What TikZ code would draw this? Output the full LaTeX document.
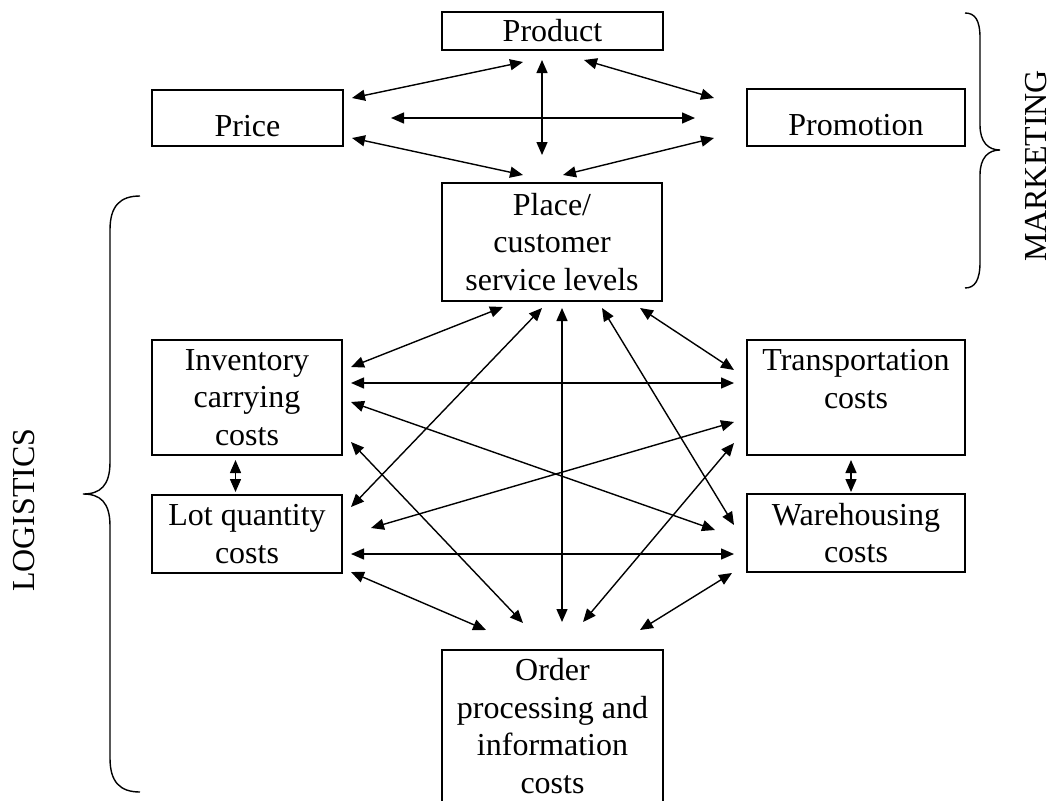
\documentclass[tikz,border=0pt]{standalone}
\usepackage{fontspec}
\setmainfont{Liberation Serif}
\usetikzlibrary{arrows.meta}

\begin{document}
\begin{tikzpicture}[x=1pt, y=-1pt,
  box/.style={draw, line width=1.8pt, inner sep=2pt, align=center,
    font=\fontsize{32}{37.5}\selectfont},
  lowbox/.style={box, text height=36pt, text depth=0pt},
  link/.style={{Triangle[length=13pt,width=11pt]}-{Triangle[length=13pt,width=11pt]},
    line width=1.4pt},
  brace/.style={line width=1.4pt}]

  \useasboundingbox (0,0) rectangle (1056,800);
  \clip (0,0) rectangle (1056,800);

  % Marketing mix (y in pixels from the top)
  \node[box, minimum width=221pt, minimum height=38pt] (product) at (552.5,31) {Product};
  \node[lowbox, minimum width=191pt, minimum height=56pt] (price) at (247.5,118) {Price};
  \node[lowbox, minimum width=218pt, minimum height=57pt] (promo) at (856,117.5) {Promotion};
  \node[box, minimum width=220pt, minimum height=118pt] (place) at (552,242)
    {Place/\\customer\\service levels};

  % Logistics cost boxes
  \node[box, minimum width=190pt, minimum height=115pt] (inv) at (247,397.5)
    {Inventory\\carrying\\costs};
  \node[box, minimum width=218pt, minimum height=115pt] (trans) at (856,397.5)
    {Transportation\\costs\\\mbox{}};
  \node[box, minimum width=190pt, minimum height=78pt] (lot) at (247,534)
    {Lot quantity\\costs};
  \node[box, minimum width=218pt, minimum height=78pt] (ware) at (856,533)
    {Warehousing\\costs};
  \node[box, minimum width=221pt, minimum height=152pt] (order) at (552.5,726)
    {Order\\processing and\\information\\costs};

  % Arrow ends round the marketing mix
  \coordinate (pp1) at (352,98);  \coordinate (pp2) at (523,62);
  \coordinate (pm1) at (584,60);  \coordinate (pm2) at (714,98);
  \coordinate (pv1) at (542,60);  \coordinate (pv2) at (542,155);
  \coordinate (ph1) at (391,118); \coordinate (ph2) at (695,118);
  \coordinate (pl1) at (352,138); \coordinate (pl2) at (523,175);
  \coordinate (ml1) at (714,138); \coordinate (ml2) at (563,175);

  % Arrow ends round the cost boxes
  \coordinate (a1) at (351,367); \coordinate (a2) at (503,307);
  \coordinate (b1) at (351,383); \coordinate (b2) at (734,383);
  \coordinate (c1) at (351,402); \coordinate (c2) at (715,530);
  \coordinate (d1) at (351,442); \coordinate (d2) at (523,623);
  \coordinate (e1) at (542,308); \coordinate (e2) at (351,507);
  \coordinate (f1) at (562,308); \coordinate (f2) at (562,622);
  \coordinate (g1) at (602,308); \coordinate (g2) at (734,525);
  \coordinate (h1) at (640,308); \coordinate (h2) at (734,370);
  \coordinate (i1) at (734,422); \coordinate (i2) at (371,528);
  \coordinate (j1) at (734,443); \coordinate (j2) at (583,622);
  \coordinate (k1) at (351,554); \coordinate (k2) at (734,554);
  \coordinate (l1) at (351,572); \coordinate (l2) at (486,630);
  \coordinate (m1) at (732,573); \coordinate (m2) at (640,630);
  \coordinate (n1) at (235.5,460); \coordinate (n2) at (235.5,492);
  \coordinate (o1) at (851,460);   \coordinate (o2) at (851,492);

  \foreach \a/\b in {pp1/pp2, pm1/pm2, pv1/pv2, ph1/ph2, pl1/pl2, ml1/ml2,
    a1/a2, b1/b2, c1/c2, d1/d2, e1/e2, f1/f2, g1/g2, h1/h2,
    i1/i2, j1/j2, k1/k2, l1/l2, m1/m2, n1/n2, o1/o2}
    \draw[link] (\a) -- (\b);

  % Braces
  \draw[brace] (140,196) .. controls (120,196) and (110,206) .. (110,230)
    -- (110,462) .. controls (110,486) and (100,494) .. (83,494)
    .. controls (100,494) and (110,502) .. (110,526)
    -- (110,758) .. controls (110,782) and (120,792) .. (140,792);
  \draw[brace] (965,13) .. controls (975,13) and (980,20) .. (980,38)
    -- (980,125) .. controls (980,142) and (988,150) .. (1000,150)
    .. controls (988,150) and (980,158) .. (980,175)
    -- (980,262) .. controls (980,280) and (975,288) .. (965,288);

  \node[rotate=90, font=\fontsize{32}{37.5}\selectfont] (logistics) at (24,510) {LOGISTICS};
  \node[rotate=90, font=\fontsize{32}{37.5}\selectfont] (marketing) at (1036,166) {MARKETING};

\end{tikzpicture}
\end{document}
